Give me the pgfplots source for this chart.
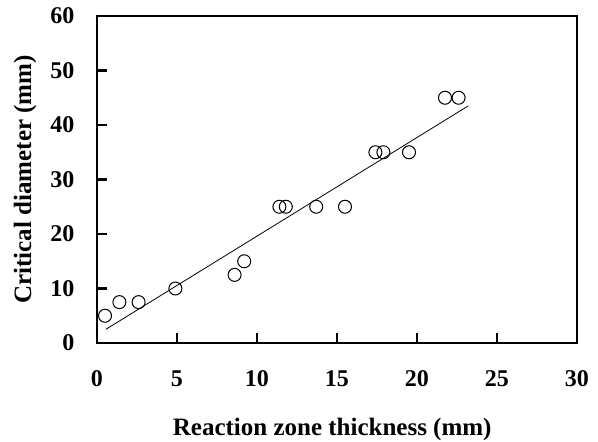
\documentclass[border=0pt]{standalone}
\usepackage{pgfplots}
\pgfplotsset{compat=1.18}
\usepackage{fontspec}
\setmainfont{Liberation Serif}

\begin{document}
\begin{tikzpicture}[x=1pt,y=1pt]
\useasboundingbox (0,0) rectangle (598,442);
\begin{axis}[
  at={(97pt,99pt)}, anchor=south west,
  width=480pt, height=327pt, scale only axis,
  xmin=0, xmax=30, ymin=0, ymax=60,
  xtick={0,5,...,30}, ytick={0,10,...,60},
  tick pos=left, tick align=inside,
  major tick length=10pt,
  every tick/.style={black, line width=2.5pt},
  axis line style={line width=2.5pt},
  /pgf/number format/assume math mode=true,
  ticklabel style={font=\fontsize{24}{24}\selectfont\bfseries},
  xticklabel style={yshift=-24pt},
  yticklabel style={xshift=-19pt},
  xlabel={Reaction zone thickness (mm)},
  ylabel={Critical diameter (mm)},
  label style={font=\fontsize{25}{25}\selectfont\bfseries},
  xlabel style={at={(axis description cs:0.49,-0.266)}, anchor=center},
  ylabel style={at={(axis description cs:-0.15,0.5)}, anchor=center},
  clip=false,
]
% measured critical diameters
\addplot[only marks, mark=o, mark size=6.5pt, mark options={line width=1pt, black}]
  coordinates {
    (0.5,5) (1.4,7.5) (2.6,7.5) (4.9,10) (8.6,12.5) (9.2,15)
    (11.4,25) (11.8,25) (13.7,25) (15.5,25)
    (17.4,35) (17.9,35) (19.5,35) (21.75,45) (22.6,45)
  };
% linear fit
\addplot[black, line width=0.8pt] coordinates {(0.55,2.5) (23.2,43.5)};
\end{axis}
\end{tikzpicture}
\end{document}
